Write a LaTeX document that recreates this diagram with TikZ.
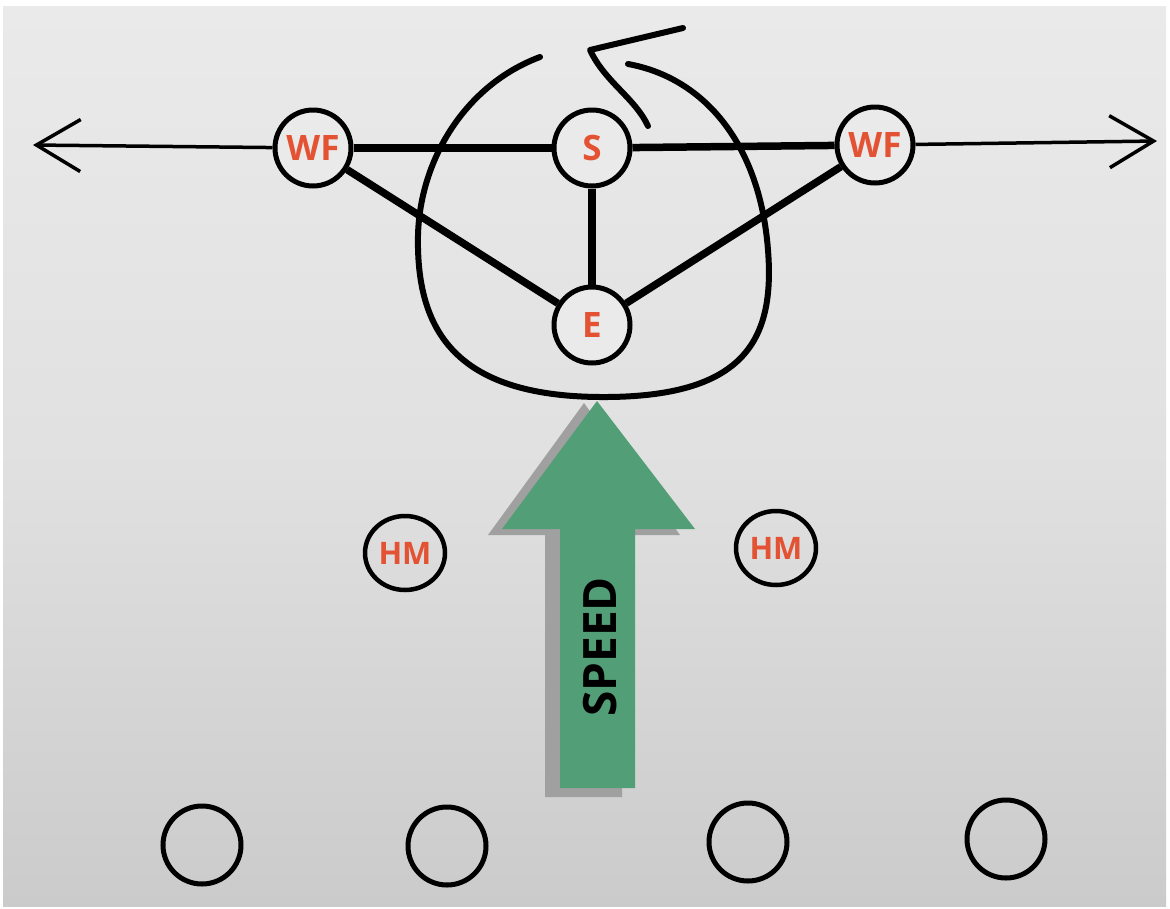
\documentclass[tikz,border=0pt]{standalone}
\usepackage{fontspec}
\setmainfont{Open Sans}
\usetikzlibrary{arrows.meta,shapes.geometric}
\definecolor{bgtop}{RGB}{234,234,234}
\definecolor{bgbot}{RGB}{203,203,203}
\definecolor{lbl}{RGB}{228,82,52}
\definecolor{speedgreen}{RGB}{82,158,118}
\definecolor{shadowgray}{RGB}{160,160,160}
\tikzset{
  player/.style={circle,draw=black,line width=5pt,fill=bgtop,inner sep=0pt,minimum size=76pt,
    text=lbl,font=\fontsize{35}{40}\selectfont\bfseries},
  hmplayer/.style={ellipse,draw=black,line width=4.5pt,inner sep=0pt,minimum width=80pt,minimum height=74pt,
    text=lbl,font=\fontsize{31}{36}\selectfont\bfseries},
  opp/.style={ellipse,draw=black,line width=5pt,inner sep=0pt,minimum width=78pt,minimum height=78pt},
  link/.style={line width=7.5pt},
  axis/.style={line width=3.5pt,-{Straight Barb[length=44pt,width=52pt,line width=3.5pt]}},
  loop/.style={line width=6pt,line cap=round},
}
\begin{document}
\begin{tikzpicture}[x=1pt,y=-1pt]
\useasboundingbox (0,0) rectangle (1170,908);
\fill[white] (0,0) rectangle (1170,908);
\shade[top color=bgtop,bottom color=bgbot,middle color=bgtop!96!black] (3,6) rectangle (1166,906);
% loop
\draw[loop] (540,57) .. controls (465,85) and (420,160) .. (418,235)
  .. controls (416,330) and (455,396) .. (600,397)
  .. controls (745,398) and (775,340) .. (768,250)
  .. controls (760,145) and (705,78) .. (628,64);
\draw[loop,line join=round] (683,28) -- (590,50) .. controls (605,82) and (635,98) .. (648,126);
% nodes
\node[player] (wfl) at (313,148) {WF};
\node[player] (s) at (592,148) {S};
\node[player] (wfr) at (875,145) {WF};
\node[player] (e) at (592,325) {E};
\coordinate (lend) at (33,145);
\coordinate (rend) at (1157,141);
% links
\draw[link] (wfl) -- (s);
\draw[link] (s) -- (wfr);
\draw[link] (wfl) -- (e);
\draw[link] (wfr) -- (e);
\draw[link] (s) -- (e);
\draw[axis] (wfl) -- (lend);
\draw[axis] (wfr) -- (rend);
% speed arrow with shadow
\fill[shadowgray] (584,403) -- (488,535) -- (545,535) -- (545,797) -- (622,797) -- (622,535) -- (680,535) -- cycle;
\fill[speedgreen] (597,401) -- (502,529) -- (560,529) -- (560,788) -- (635,788) -- (635,529) -- (695,529) -- cycle;
\node[rotate=90,font=\fontsize{46}{48}\selectfont\bfseries,text=black] (speed) at (600,647) {SPEED};
% HM
\node[hmplayer] (hml) at (405,553) {HM};
\node[hmplayer] (hmr) at (776,548) {HM};
% opponents
\node[opp] (o1) at (202,845) {};
\node[opp] (o2) at (447,846) {};
\node[opp] (o3) at (748,842) {};
\node[opp] (o4) at (1006,839) {};
\end{tikzpicture}
\end{document}
